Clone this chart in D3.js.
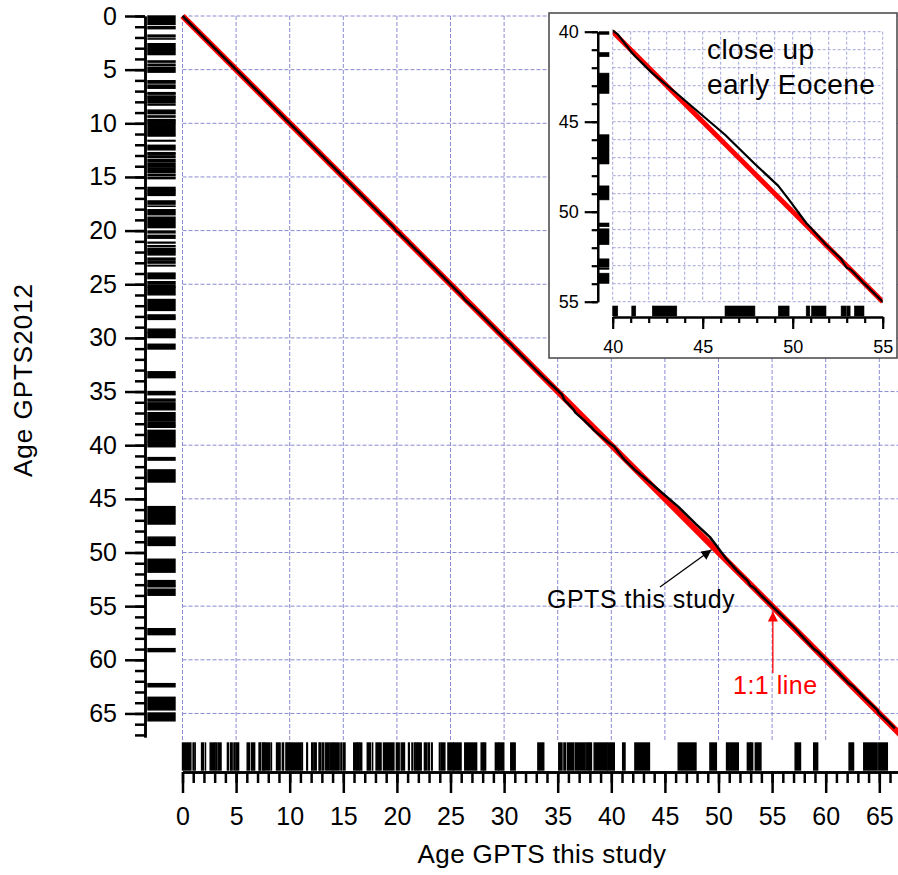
<!DOCTYPE html>
<html><head><meta charset="utf-8">
<script src="https://cdn.jsdelivr.net/npm/d3@7"></script>
<style>
html,body{margin:0;padding:0;background:#fff;}
svg{display:block;font-family:"Liberation Sans",Arial,Helvetica,sans-serif;}
</style></head><body>
<svg id="chart" width="898" height="875"></svg>
<script>
// ---------- DATA ----------
// Normal-polarity chrons: ages (Ma) in GPTS2012 and in "GPTS this study"
const chronNames = ["C1n","C1r.1n","C1r.2n","C2n","C2r.1n","C2An.1n","C2An.2n","C2An.3n","C3n.1n","C3n.2n",
 "C3n.3n","C3n.4n","C3An.1n","C3An.2n","C3Bn","C3Br.1n","C3Br.2n","C4n.1n","C4n.2n","C4r.1n",
 "C4An","C4Ar.1n","C4Ar.2n","C5n.1n","C5n.2n","C5r.1n","C5r.2n","C5An.1n","C5An.2n","C5Ar.1n",
 "C5Ar.2n","C5AAn","C5ABn","C5ACn","C5ADn","C5Bn.1n","C5Bn.2n","C5Cn.1n","C5Cn.2n","C5Cn.3n",
 "C5Dn","C5Dr.1n","C5En","C6n","C6An.1n","C6An.2n","C6AAn","C6AAr.1n","C6AAr.2n","C6Bn.1n",
 "C6Bn.2n","C6Cn.1n","C6Cn.2n","C6Cn.3n","C7n.1n","C7n.2n","C7An","C8n.1n","C8n.2n","C9n",
 "C10n.1n","C10n.2n","C11n.1n","C11n.2n","C12n","C13n","C15n","C16n.1n","C16n.2n","C17n.1n",
 "C17n.2n","C17n.3n","C18n.1n","C18n.2n","C19n","C20n","C21n","C22n","C23n.1n","C23n.2n",
 "C24n.1n","C24n.2n","C24n.3n","C25n","C26n","C27n","C28n","C29n"];
const gtsTop = [0.000,0.988,1.173,1.778,2.128,2.581,3.116,3.330,4.187,4.493,
 4.799,4.997,6.033,6.436,7.140,7.251,7.454,7.528,7.695,8.254,
 8.771,9.311,9.647,9.786,9.984,11.146,11.592,12.049,12.272,12.735,
 12.829,13.032,13.363,13.739,14.163,14.775,15.032,15.974,16.303,16.543,
 17.235,17.717,18.056,18.748,20.040,20.439,21.083,21.403,21.659,21.767,
 21.992,22.564,22.902,23.233,23.962,24.109,24.761,25.099,25.304,26.420,
 27.859,28.141,29.183,29.527,30.591,33.157,34.999,35.706,36.051,36.969,
 37.872,38.159,38.615,39.698,41.154,42.301,45.724,48.566,50.628,50.951,
 52.620,53.118,53.416,57.101,58.959,62.221,63.494,64.958];
const gtsBase = [0.781,1.072,1.185,1.945,2.148,3.032,3.207,3.596,4.300,4.631,
 4.896,5.235,6.252,6.733,7.212,7.285,7.489,7.642,8.108,8.300,
 9.105,9.426,9.721,9.937,11.056,11.188,11.657,12.174,12.474,12.770,
 12.887,13.183,13.608,14.070,14.609,14.870,15.160,16.268,16.472,16.721,
 17.533,17.740,18.524,19.722,20.213,20.709,21.159,21.483,21.688,21.936,
 22.268,22.754,23.030,23.295,24.000,24.474,24.984,25.264,25.987,27.439,
 28.087,28.278,29.477,29.970,31.034,33.705,35.294,35.892,36.700,37.753,
 38.093,38.333,39.627,40.145,41.390,43.432,47.349,49.344,50.835,51.833,
 53.074,53.199,53.983,57.656,59.237,62.517,64.667,65.688];
const studyTop = [0.000,0.988,1.173,1.778,2.128,2.581,3.116,3.330,4.187,4.493,
 4.799,4.997,6.033,6.436,7.140,7.251,7.454,7.528,7.695,8.254,
 8.771,9.311,9.647,9.786,9.984,11.146,11.592,12.049,12.272,12.735,
 12.829,13.032,13.363,13.739,14.163,14.775,15.032,15.974,16.303,16.543,
 17.235,17.717,18.056,18.748,19.950,20.400,21.083,21.403,21.659,21.767,
 21.992,22.564,22.902,23.233,23.962,24.109,24.761,25.099,25.304,26.330,
 27.859,28.141,29.183,29.527,30.620,33.150,35.100,35.580,35.900,36.650,
 37.650,37.950,38.400,39.680,41.060,42.200,46.240,49.200,50.750,51.050,
 52.690,53.010,53.430,57.150,58.880,62.180,63.550,64.950];
const studyBase = [0.781,1.072,1.185,1.945,2.148,3.032,3.207,3.596,4.300,4.631,
 4.896,5.235,6.252,6.733,7.212,7.285,7.489,7.642,8.108,8.300,
 9.105,9.426,9.721,9.937,11.056,11.188,11.657,12.174,12.474,12.770,
 12.887,13.183,13.608,14.070,14.609,14.870,15.160,16.268,16.472,16.721,
 17.533,17.740,18.524,19.722,20.213,20.709,21.159,21.483,21.688,21.936,
 22.268,22.754,23.030,23.295,24.000,24.474,24.984,25.264,25.987,27.439,
 28.087,28.278,29.477,29.970,31.034,33.700,35.400,35.720,36.500,37.550,
 37.900,38.150,39.600,40.280,41.280,43.560,47.900,49.800,50.950,51.850,
 52.970,53.190,53.960,57.650,59.250,62.600,64.800,65.750];
// end tie point of the "this study" curve (K/Pg level)
const endStudy = [66.45];
const endGts = [66.40];

const mainTicks = [0,5,10,15,20,25,30,35,40,45,50,55,60,65];
const insetTicks = [40,45,50,55];
const xTitle = "Age GPTS this study";
const yTitle = "Age GPTS2012";
const insetText = ["close up", "early Eocene"];
const labelStudy = "GPTS this study";
const labelOneToOne = "1:1 line";

// ---------- DRAW ----------
const FONT = '"Liberation Sans", Arial, Helvetica, sans-serif';
const svg = d3.select("#chart");
const x = d3.scaleLinear().domain([0, 67.2]).range([182.5, 182.5 + 67.2 * 10.72]);
const y = d3.scaleLinear().domain([0, 67.2]).range([16, 16 + 67.2 * 10.73]);

const curve = [[0, 0]];
gtsTop.forEach((g, i) => { curve.push([studyTop[i], g]); curve.push([studyBase[i], gtsBase[i]]); });
endStudy.forEach((s, i) => curve.push([s, endGts[i]]));
const chrons = gtsTop.map((g, i) => ({name: chronNames[i], gt: g, gb: gtsBase[i], st: studyTop[i], sb: studyBase[i]}));

// grid
const grid = svg.append("g").attr("stroke", "#8a8ad0").attr("stroke-width", 1).attr("stroke-dasharray", "4,2");
grid.selectAll("line.gv").data(mainTicks).join("line").attr("class", "gv")
  .attr("x1", d => x(d)).attr("x2", d => x(d)).attr("y1", y(0)).attr("y2", y(67.2) + 4);
grid.selectAll("line.gh").data(mainTicks).join("line").attr("class", "gh")
  .attr("x1", x(0)).attr("x2", 898).attr("y1", d => y(d)).attr("y2", d => y(d));

// polarity bars
svg.append("g").selectAll("rect").data(chrons).join("rect")
  .attr("x", 148).attr("width", 27)
  .attr("y", d => y(d.gt)).attr("height", d => y(d.gb) - y(d.gt))
  .attr("fill", "#000").attr("stroke", "#000").attr("stroke-width", 1.4);
svg.append("g").selectAll("rect").data(chrons).join("rect")
  .attr("y", 743).attr("height", 27)
  .attr("x", d => x(d.st)).attr("width", d => x(d.sb) - x(d.st))
  .attr("fill", "#000").attr("stroke", "#000").attr("stroke-width", 1.4);

// 1:1 line and curve
svg.append("line").attr("x1", x(0)).attr("y1", y(0)).attr("x2", x(67.2)).attr("y2", y(67.2))
  .attr("stroke", "#ff0000").attr("stroke-width", 6);
const line = d3.line().x(d => x(d[0])).y(d => y(d[1]));
svg.append("path").datum(curve).attr("d", line).attr("fill", "none")
  .attr("stroke", "#000").attr("stroke-width", 2.5).attr("stroke-linejoin", "round");

// axes
function styleAxis(g, fs, sw) {
  g.attr("font-family", FONT).attr("font-size", fs);
  g.selectAll("path,line").attr("stroke", "#000").attr("stroke-width", sw);
  g.selectAll("text").attr("fill", "#000");
}
const yAx = svg.append("g").attr("transform", "translate(145,0)");
yAx.append("g").call(d3.axisLeft(y).tickValues(d3.range(0, 68)).tickSize(10).tickSizeOuter(0).tickFormat(""))
  .call(g => styleAxis(g, 25, 2.5));
yAx.append("g").call(d3.axisLeft(y).tickValues(mainTicks).tickSize(20).tickSizeOuter(0).tickPadding(8))
  .call(g => styleAxis(g, 25, 2.5));
const xAx = svg.append("g").attr("transform", "translate(0,772)");
xAx.append("g").call(d3.axisBottom(x).tickValues(d3.range(0, 68)).tickSize(11).tickSizeOuter(0).tickFormat(""))
  .call(g => styleAxis(g, 25, 2.5));
xAx.append("g").call(d3.axisBottom(x).tickValues(mainTicks).tickSize(21).tickSizeOuter(0).tickPadding(14))
  .call(g => styleAxis(g, 25, 2.5));

// titles
svg.append("text").attr("x", 542).attr("y", 863).attr("text-anchor", "middle")
  .attr("font-size", 26).attr("letter-spacing", 0.4).text(xTitle);
svg.append("text").attr("transform", "translate(32,380) rotate(-90)").attr("text-anchor", "middle")
  .attr("font-size", 26).attr("letter-spacing", 1).text(yTitle);

// annotations
const defs = svg.append("defs");
defs.append("marker").attr("id", "ahB").attr("viewBox", "0 0 10 10").attr("refX", 10).attr("refY", 5)
  .attr("markerWidth", 11).attr("markerHeight", 10).attr("markerUnits", "userSpaceOnUse").attr("orient", "auto")
  .append("path").attr("d", "M0,0L10,5L0,10Z").attr("fill", "#000");
defs.append("marker").attr("id", "ahR").attr("viewBox", "0 0 10 10").attr("refX", 10).attr("refY", 5)
  .attr("markerWidth", 14).attr("markerHeight", 10).attr("markerUnits", "userSpaceOnUse").attr("orient", "auto")
  .append("path").attr("d", "M0,0L10,5L0,10Z").attr("fill", "#ff0000");
svg.append("line").attr("x1", 660).attr("y1", 587).attr("x2", x(49.35)).attr("y2", y(49.75))
  .attr("stroke", "#000").attr("stroke-width", 1.3).attr("marker-end", "url(#ahB)");
svg.append("text").attr("x", 547).attr("y", 608).attr("font-size", 25).attr("letter-spacing", 0.5).text(labelStudy);
svg.append("line").attr("x1", x(55.07)).attr("y1", 673).attr("x2", x(55.07)).attr("y2", y(55.5))
  .attr("stroke", "#ff0000").attr("stroke-width", 1.3).attr("marker-end", "url(#ahR)");
svg.append("text").attr("x", 733).attr("y", 694).attr("font-size", 25).attr("letter-spacing", 0.5)
  .attr("fill", "#ff0000").text(labelOneToOne);

// ---------- INSET ----------
const ix = d3.scaleLinear().domain([40, 55]).range([612.7, 882.7]);
const iy = d3.scaleLinear().domain([40, 55]).range([31.7, 301.7]);
const inset = svg.append("g");
inset.append("rect").attr("x", 549).attr("y", 13).attr("width", 348).attr("height", 345)
  .attr("fill", "#fff").attr("stroke", "#444").attr("stroke-width", 1.5);
const ig = inset.append("g").attr("stroke", "#9a9ad8").attr("stroke-width", 0.9).attr("stroke-dasharray", "3,2");
const iUnits = d3.range(40, 56);
ig.selectAll("line.iv").data(iUnits).join("line").attr("class", "iv")
  .attr("x1", d => ix(d)).attr("x2", d => ix(d)).attr("y1", iy(40)).attr("y2", iy(55));
ig.selectAll("line.ih").data(iUnits).join("line").attr("class", "ih")
  .attr("x1", ix(40)).attr("x2", ix(55)).attr("y1", d => iy(d)).attr("y2", d => iy(d));

const inL = chrons.filter(d => d.gb > 40 && d.gt < 55);
inset.append("g").selectAll("rect").data(inL).join("rect")
  .attr("x", 599).attr("width", 10)
  .attr("y", d => iy(Math.max(40, d.gt))).attr("height", d => iy(Math.min(55, d.gb)) - iy(Math.max(40, d.gt)))
  .attr("fill", "#000").attr("stroke", "#000").attr("stroke-width", 0.6);
const inB = chrons.filter(d => d.sb > 40 && d.st < 55);
inset.append("g").selectAll("rect").data(inB).join("rect")
  .attr("y", 306).attr("height", 10)
  .attr("x", d => ix(Math.max(40, d.st))).attr("width", d => ix(Math.min(55, d.sb)) - ix(Math.max(40, d.st)))
  .attr("fill", "#000").attr("stroke", "#000").attr("stroke-width", 0.6);

defs.append("clipPath").attr("id", "iclip").append("rect")
  .attr("x", ix(40)).attr("y", iy(40) - 4).attr("width", ix(55) - ix(40)).attr("height", iy(55) - iy(40) + 8);
const ic = inset.append("g").attr("clip-path", "url(#iclip)");
ic.append("line").attr("x1", ix(40)).attr("y1", iy(40)).attr("x2", ix(55)).attr("y2", iy(55))
  .attr("stroke", "#ff0000").attr("stroke-width", 5);
const iline = d3.line().x(d => ix(d[0])).y(d => iy(d[1]));
ic.append("path").datum(curve).attr("d", iline).attr("fill", "none")
  .attr("stroke", "#000").attr("stroke-width", 2.2).attr("stroke-linejoin", "round");

const iyAx = inset.append("g").attr("transform", "translate(597.7,0)");
iyAx.append("g").call(d3.axisLeft(iy).tickValues(iUnits).tickSize(6).tickSizeOuter(0).tickFormat(""))
  .call(g => styleAxis(g, 18, 2.2));
iyAx.append("g").call(d3.axisLeft(iy).tickValues(insetTicks).tickSize(13).tickSizeOuter(0).tickPadding(6))
  .call(g => styleAxis(g, 18, 2.2));
const ixAx = inset.append("g").attr("transform", "translate(0,317)");
ixAx.append("g").call(d3.axisBottom(ix).tickValues(iUnits).tickSize(6).tickSizeOuter(0).tickFormat(""))
  .call(g => styleAxis(g, 18, 2.2));
ixAx.append("g").call(d3.axisBottom(ix).tickValues(insetTicks).tickSize(12).tickSizeOuter(0).tickPadding(11))
  .call(g => styleAxis(g, 18, 2.2));

inset.selectAll("text.it").data(insetText).join("text").attr("class", "it")
  .attr("x", 707).attr("y", (d, i) => 59 + i * 35)
  .attr("font-size", 28).attr("letter-spacing", 0.4).text(d => d);
</script>
</body></html>
